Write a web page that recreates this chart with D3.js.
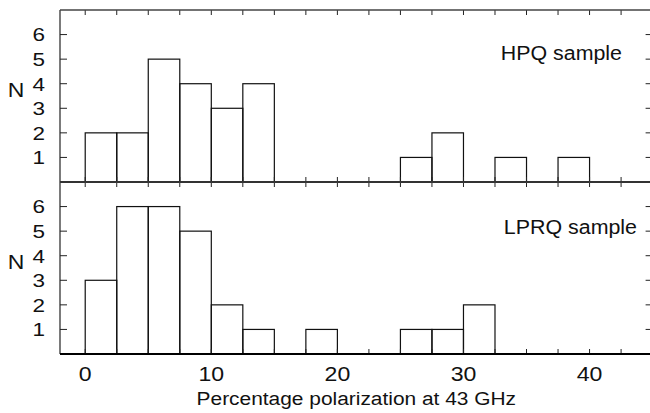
<!DOCTYPE html>
<html>
<head>
<meta charset="utf-8">
<script src="https://cdn.jsdelivr.net/npm/d3@7"></script>
<style>
  body { margin: 0; background: #fff; }
  text { font-family: "Liberation Sans", Arial, sans-serif; fill: #111; }
</style>
</head>
<body>
<div id="chart"></div>
<script>
// histogram bins, width 2.5 %
var binStarts = [0, 2.5, 5, 7.5, 10, 12.5, 15, 17.5, 20, 22.5, 25, 27.5, 30, 32.5, 35, 37.5, 40, 42.5];
var binWidth = 2.5;
var hpqCounts  = [2, 2, 5, 4, 3, 4, 0, 0, 0, 0, 1, 2, 0, 1, 0, 1, 0, 0];
var lprqCounts = [3, 6, 6, 5, 2, 1, 0, 1, 0, 0, 1, 1, 2, 0, 0, 0, 0, 0];
var xTickLabels = [0, 10, 20, 30, 40];
var yTickLabels = [1, 2, 3, 4, 5, 6];
var panels = [
  {name: "HPQ sample", counts: hpqCounts, top: 10, bottom: 182, labelX: 622, labelY: 60},
  {name: "LPRQ sample", counts: lprqCounts, top: 182, bottom: 354, labelX: 637, labelY: 234}
];

var width = 650, height = 413;
var left = 60, right = 652.6;

var svg = d3.select("#chart").append("svg")
  .attr("width", width)
  .attr("height", height);

var x = d3.scaleLinear().domain([-2, 45]).range([left, right]);
var minorTicks = d3.range(0, 45.01, 2.5);

// stretched text, the original fonts are wider than Arial
function label(g, txt, px, py, size, sx, anchor) {
  g.append("text")
    .attr("transform", "translate(" + px + "," + py + ") scale(" + sx + ",1)")
    .attr("text-anchor", anchor)
    .style("font-size", size + "px")
    .text(txt);
}

panels.forEach(function(p) {
  var y = d3.scaleLinear().domain([0, 7]).range([p.bottom, p.top]);
  var g = svg.append("g");

  // bars
  var bins = binStarts.map(function(s, i) { return {x0: s, n: p.counts[i]}; })
    .filter(function(d) { return d.n > 0; });
  g.selectAll("rect.bar")
    .data(bins)
    .enter().append("rect")
    .attr("class", "bar")
    .attr("x", function(d) { return x(d.x0); })
    .attr("y", function(d) { return y(d.n); })
    .attr("width", function(d) { return x(d.x0 + binWidth) - x(d.x0); })
    .attr("height", function(d) { return y(0) - y(d.n); })
    .style("fill", "none")
    .style("stroke", "#111")
    .style("stroke-width", 1.2);

  // x ticks top and bottom, pointing inward
  g.selectAll("line.xt")
    .data(minorTicks)
    .enter().append("line")
    .attr("x1", function(d) { return x(d); })
    .attr("x2", function(d) { return x(d); })
    .attr("y1", p.top)
    .attr("y2", p.top + 5)
    .style("stroke", "#222");
  g.selectAll("line.xb")
    .data(minorTicks)
    .enter().append("line")
    .attr("x1", function(d) { return x(d); })
    .attr("x2", function(d) { return x(d); })
    .attr("y1", p.bottom)
    .attr("y2", p.bottom - 5)
    .style("stroke", "#222");

  // y ticks left and right
  g.selectAll("line.yl")
    .data(yTickLabels)
    .enter().append("line")
    .attr("x1", left)
    .attr("x2", left + 7)
    .attr("y1", function(d) { return y(d); })
    .attr("y2", function(d) { return y(d); })
    .style("stroke", "#222");
  g.selectAll("line.yr")
    .data(yTickLabels)
    .enter().append("line")
    .attr("x1", right)
    .attr("x2", right - 7)
    .attr("y1", function(d) { return y(d); })
    .attr("y2", function(d) { return y(d); })
    .style("stroke", "#222");

  yTickLabels.forEach(function(d) {
    label(g, d, 45, y(d) + 6.8, 18, 1.25, "end");
  });

  // frame
  g.append("line")
    .attr("x1", left).attr("x2", left)
    .attr("y1", p.top).attr("y2", p.bottom)
    .style("stroke", "#222").style("stroke-width", 1.2);
  g.append("line")
    .attr("x1", left).attr("x2", right)
    .attr("y1", p.top).attr("y2", p.top)
    .style("stroke", "#444").style("stroke-width", 1.5);
  g.append("line")
    .attr("x1", left).attr("x2", right)
    .attr("y1", p.bottom).attr("y2", p.bottom)
    .style("stroke", "#000").style("stroke-width", 2.2);

  label(g, "N", 16, (p.top + p.bottom) / 2 + 1, 20, 1.15, "middle");
  label(g, p.name, p.labelX, p.labelY, 20, 1.07, "end");
});

// x tick labels under the bottom panel
xTickLabels.forEach(function(d) {
  label(svg, d, x(d), 381, 21, 1.1, "middle");
});

label(svg, "Percentage polarization at 43 GHz", (left + right) / 2, 405, 19, 1.1, "middle");
</script>
</body>
</html>
